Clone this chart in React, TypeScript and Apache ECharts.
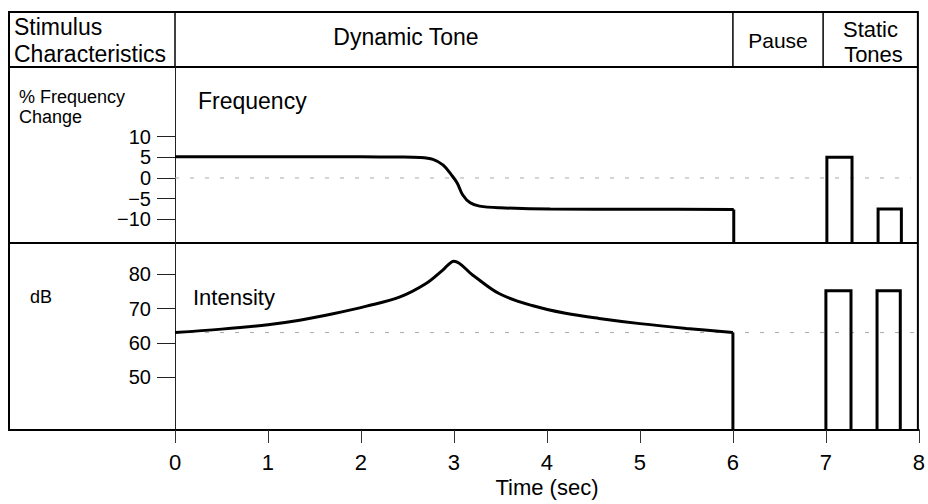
import React, { useEffect, useRef } from "react";
import * as echarts from "echarts";

// ---- Data ----
const xTicks = [0, 1, 2, 3, 4, 5, 6, 7, 8];
const freqTicks = [-10, -5, 0, 5, 10];
const dbTicks = [50, 60, 70, 80];

const FREQ_MIN = -15.7;
const FREQ_MAX = 26.8;
const DB_MIN = 34.6;
const DB_MAX = 89.1;

// Frequency (% change) of the dynamic tone
const freqCurve: number[][] = [
  [0, 5.1], [1, 5.1], [2, 5.1], [2.4, 5.05], [2.63, 4.95], [2.77, 4.5], [2.88, 3.1],
  [2.97, 0.7], [3.03, -1.2], [3.09, -4.1], [3.17, -6.0], [3.27, -6.8], [3.49, -7.2],
  [4.03, -7.5], [5, -7.55], [6, -7.6],
];
const freqDrop: number[][] = [[6, -7.6], [6, FREQ_MIN]];

// Intensity (dB) of the dynamic tone
const intensityCurve: number[][] = [
  [0, 63], [0.5, 64], [1, 65.3], [1.34, 66.6], [1.7, 68.5], [2.06, 70.7], [2.42, 73.4],
  [2.7, 77.3], [2.88, 81.2], [3.0, 83.8], [3.2, 79.8], [3.49, 74.3], [3.85, 70.8],
  [4.2, 68.6], [4.56, 67.1], [5, 65.6], [5.5, 64.2], [6, 63],
];
const intensityDrop: number[][] = [[6, 63], [6, DB_MIN]];

// Static tones: [start, end, value]
const freqStatic: number[][] = [[7.0, 7.27, 5], [7.55, 7.8, -7.5]];
const dbStatic: number[][] = [[7.0, 7.27, 75.2], [7.55, 7.8, 75.2]];

// Reference (dotted) levels
const freqRef: number[][] = [[0, 0], [7.9, 0]];
const dbRef: number[][] = [[0, 63], [8, 63]];

const FONT = "'Liberation Sans', Arial, Helvetica, sans-serif";

const fmt = (v: number) => (v < 0 ? "\u2212" + Math.abs(v) : String(v));

function staticRender(base: number) {
  return (params: any, api: any) => {
    const x0 = api.value(0);
    const x1 = api.value(1);
    const v = api.value(2);
    const pTop0 = api.coord([x0, v]);
    const pTop1 = api.coord([x1, v]);
    const pB0 = api.coord([x0, base]);
    const pB1 = api.coord([x1, base]);
    return {
      type: "polyline",
      shape: { points: [pB0, pTop0, pTop1, pB1] },
      style: { stroke: "#000", lineWidth: 3, fill: null },
    };
  };
}

export default function App() {
  const ref = useRef<HTMLDivElement>(null);

  useEffect(() => {
    if (!ref.current) return;
    const chart = echarts.init(ref.current, null, { renderer: "svg" });

    const lineBase = {
      type: "line",
      showSymbol: false,
      symbol: "none",
      animation: false,
      silent: true,
    };

    chart.setOption({
      animation: false,
      backgroundColor: "#fff",
      textStyle: { fontFamily: FONT },
      grid: [
        { left: 175, right: 8, top: 67, bottom: 504 - 243 },
        { left: 175, right: 8, top: 243, bottom: 504 - 430 },
      ],
      xAxis: [
        { gridIndex: 0, type: "value", min: 0, max: 8, show: false },
        {
          gridIndex: 1,
          type: "value",
          min: 0,
          max: 8,
          interval: 1,
          axisLine: { show: true, lineStyle: { color: "#000", width: 2 } },
          axisTick: { show: true, length: 13, lineStyle: { color: "#333", width: 1 } },
          axisLabel: {
            customValues: xTicks,
            fontSize: 22,
            color: "#000",
            margin: 21,
            fontFamily: FONT,
          },
          splitLine: { show: false },
          name: "Time (sec)",
          nameLocation: "middle",
          nameGap: 46,
          nameTextStyle: { fontSize: 22, color: "#000", fontFamily: FONT },
        },
      ],
      yAxis: [
        {
          gridIndex: 0,
          type: "value",
          min: FREQ_MIN,
          max: FREQ_MAX,
          axisLine: { show: true, lineStyle: { color: "#222", width: 1 } },
          axisTick: { show: true, customValues: freqTicks, length: 18, lineStyle: { color: "#222", width: 1 } },
          axisLabel: {
            customValues: freqTicks,
            formatter: fmt,
            fontSize: 20,
            color: "#000",
            margin: 24,
            fontFamily: FONT,
          },
          splitLine: { show: false },
        },
        {
          gridIndex: 1,
          type: "value",
          min: DB_MIN,
          max: DB_MAX,
          axisLine: { show: true, lineStyle: { color: "#222", width: 1 } },
          axisTick: { show: true, customValues: dbTicks, length: 18, lineStyle: { color: "#222", width: 1 } },
          axisLabel: {
            customValues: dbTicks,
            formatter: fmt,
            fontSize: 20,
            color: "#000",
            margin: 24,
            fontFamily: FONT,
          },
          splitLine: { show: false },
        },
      ],
      series: [
        {
          ...lineBase,
          name: "freqRef",
          xAxisIndex: 0,
          yAxisIndex: 0,
          data: freqRef,
          z: 1,
          lineStyle: { color: "#aaa", width: 1, type: [4, 11] },
        },
        {
          ...lineBase,
          name: "dbRef",
          xAxisIndex: 1,
          yAxisIndex: 1,
          data: dbRef,
          z: 1,
          lineStyle: { color: "#aaa", width: 1, type: [4, 11] },
        },
        {
          ...lineBase,
          name: "Frequency",
          xAxisIndex: 0,
          yAxisIndex: 0,
          data: freqCurve,
          smooth: 0.35,
          z: 3,
          lineStyle: { color: "#000", width: 3 },
        },
        {
          ...lineBase,
          name: "FrequencyDrop",
          xAxisIndex: 0,
          yAxisIndex: 0,
          data: freqDrop,
          z: 3,
          lineStyle: { color: "#000", width: 3 },
        },
        {
          ...lineBase,
          name: "Intensity",
          xAxisIndex: 1,
          yAxisIndex: 1,
          data: intensityCurve,
          smooth: 0.35,
          z: 3,
          lineStyle: { color: "#000", width: 3 },
        },
        {
          ...lineBase,
          name: "IntensityDrop",
          xAxisIndex: 1,
          yAxisIndex: 1,
          data: intensityDrop,
          z: 3,
          lineStyle: { color: "#000", width: 3 },
        },
        {
          type: "custom",
          name: "StaticFreq",
          xAxisIndex: 0,
          yAxisIndex: 0,
          data: freqStatic,
          z: 4,
          silent: true,
          renderItem: staticRender(FREQ_MIN),
        },
        {
          type: "custom",
          name: "StaticDb",
          xAxisIndex: 1,
          yAxisIndex: 1,
          data: dbStatic,
          z: 4,
          silent: true,
          renderItem: staticRender(DB_MIN),
        },
      ],
    });

    // Frame / header layout derived from the axes
    const px = (v: number) => chart.convertToPixel({ xAxisIndex: 1 } as any, v) as number;
    const X0 = px(0);
    const X6 = px(6);
    const X7 = px(6.97);
    const X8 = px(8);
    const yFreqTop = chart.convertToPixel({ yAxisIndex: 0 } as any, FREQ_MAX) as number;
    const ySep = chart.convertToPixel({ yAxisIndex: 0 } as any, FREQ_MIN) as number;
    const yBottom = chart.convertToPixel({ yAxisIndex: 1 } as any, DB_MIN) as number;
    const L = 9;
    const T = 12;
    const R = X8 - 1;
    const stroke = { stroke: "#000", lineWidth: 2 };
    const txt = (text: string, x: number, y: number, size: number, align = "left") => ({
      type: "text",
      x,
      y,
      silent: true,
      style: {
        text,
        fontSize: size,
        fontFamily: FONT,
        fill: "#000",
        align,
        verticalAlign: "middle",
      },
    });

    chart.setOption({
      graphic: [
        {
          type: "rect",
          silent: true,
          shape: { x: L, y: T, width: R - L, height: yBottom - T },
          style: { ...stroke, fill: null },
        },
        { type: "line", silent: true, shape: { x1: L, y1: yFreqTop, x2: R, y2: yFreqTop }, style: stroke },
        { type: "line", silent: true, shape: { x1: L, y1: ySep, x2: R, y2: ySep }, style: stroke },
        { type: "line", silent: true, shape: { x1: X0, y1: T, x2: X0, y2: yFreqTop }, style: { stroke: "#000", lineWidth: 1.5 } },
        { type: "line", silent: true, shape: { x1: X6, y1: T, x2: X6, y2: yFreqTop }, style: { stroke: "#000", lineWidth: 1.5 } },
        { type: "line", silent: true, shape: { x1: X7, y1: T, x2: X7, y2: yFreqTop }, style: { stroke: "#000", lineWidth: 1.5 } },
        txt("Stimulus", 14, 27, 23),
        txt("Characteristics", 14, 54, 23),
        txt("Dynamic Tone", 406, 37, 23, "center"),
        txt("Pause", (X6 + X7) / 2, 40, 21, "center"),
        txt("Static", (X7 + R) / 2, 29, 22, "center"),
        txt("Tones", (X7 + R) / 2 + 3, 54, 22, "center"),
        txt("% Frequency", 19, 97, 18),
        txt("Change", 19, 117, 18),
        txt("Frequency", 198, 101, 23),
        txt("dB", 30, 297, 18),
        txt("Intensity", 193, 297, 22),
      ],
    });

    return () => {
      chart.dispose();
    };
  }, []);

  return (
    <div
      ref={ref}
      style={{ position: "absolute", left: 0, top: 0, width: 928, height: 504 }}
    />
  );
}
